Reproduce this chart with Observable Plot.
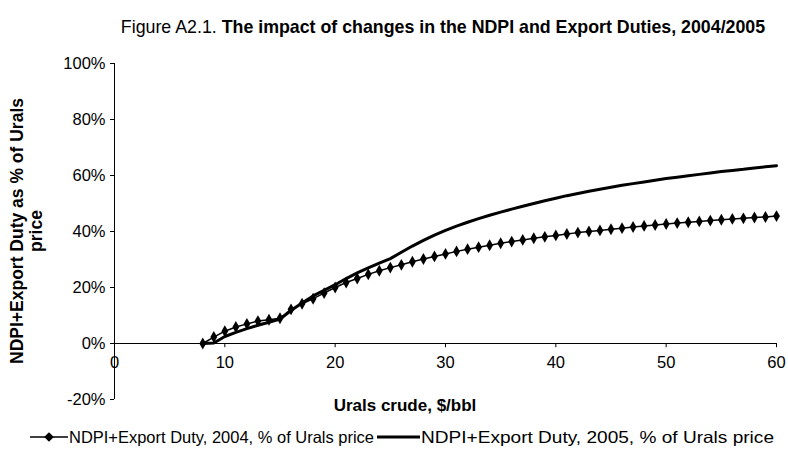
<!DOCTYPE html>
<html>
<head>
<meta charset="utf-8">
<script src="https://cdn.jsdelivr.net/npm/d3@7"></script>
<script src="https://cdn.jsdelivr.net/npm/@observablehq/plot@0.6"></script>
<style>
  html, body { margin: 0; padding: 0; background: #fff; }
  #chart { width: 788px; height: 454px; }
  svg { font-family: Arial, "Liberation Sans", sans-serif; }
</style>
</head>
<body>
<div id="chart"></div>
<script>
const prices = [8,9,10,11,12,13,14,15,16,17,18,19,20,21,22,23,24,25,26,27,28,29,30,31,32,33,34,35,36,37,38,39,40,41,42,43,44,45,46,47,48,49,50,51,52,53,54,55,56,57,58,59,60];
const share2004 = [0,2.3,4.4,5.9,7.0,8.0,8.5,9.0,12.2,14.2,16.0,18.0,20.0,21.8,23.2,24.7,26.0,27.1,28.1,29.2,30.2,31.1,32.0,32.9,33.7,34.4,35.1,35.8,36.4,37.0,37.6,38.1,38.6,39.1,39.6,40.0,40.4,40.8,41.2,41.6,42.0,42.3,42.7,43.0,43.3,43.6,43.9,44.2,44.5,44.7,45.0,45.2,45.5];
const share2005 = [0,0.2,2.5,4.0,5.3,6.5,7.6,8.7,11.8,14.5,17.0,19.0,21.0,23.2,25.2,27.0,28.7,30.3,32.6,34.8,36.8,38.7,40.4,41.9,43.3,44.6,45.8,46.9,48.0,49.0,50.0,51.0,51.9,52.8,53.6,54.4,55.1,55.8,56.5,57.1,57.7,58.3,58.9,59.4,59.9,60.4,60.9,61.4,61.8,62.2,62.7,63.1,63.5];
const xTicks = [0,10,20,30,40,50,60];
const yTicks = [-20,0,20,40,60,80,100];
const seriesNames = ["NDPI+Export Duty, 2004, % of Urals price", "NDPI+Export Duty, 2005, % of Urals price"];
const titlePrefix = "Figure A2.1. ";
const titleMain = "The impact of changes in the NDPI and Export Duties, 2004/2005";
const yLabelLines = ["NDPI+Export Duty as % of Urals", "price"];
const xLabel = "Urals crude, $/bbl";

const d2004 = prices.map((p, i) => ({p, v: share2004[i]}));
const d2005 = prices.map((p, i) => ({p, v: share2005[i]}));

const plot = Plot.plot({
  width: 788,
  height: 454,
  marginLeft: 114,
  marginRight: 12,
  marginTop: 63,
  marginBottom: 55,
  style: {fontFamily: "Arial, 'Liberation Sans', sans-serif", fontSize: "16.5px", color: "#000", background: "#fff"},
  x: {domain: [0, 60], axis: null},
  y: {domain: [-20, 100], axis: null},
  marks: [
    Plot.ruleX([0], {stroke: "#000", strokeWidth: 1}),
    Plot.axisY({ticks: yTicks, tickFormat: d => d + "%", tickSize: 4, tickPadding: 5, fontSize: 16.5, label: null, stroke: "#000", color: "#000"}),
    Plot.ruleY([0], {stroke: "#000", strokeWidth: 1}),
    Plot.ruleX(xTicks, {y1: 0, y2: -1.5, stroke: "#000"}),
    Plot.text(xTicks, {x: d => d, y: 0, dy: 19, text: d => String(d), fontSize: 16.5, fill: "#000"}),
    Plot.line(d2005, {x: "p", y: "v", stroke: "#000", strokeWidth: 3}),
    Plot.line(d2004, {x: "p", y: "v", stroke: "#000", strokeWidth: 1.5}),
    Plot.dot(d2004, {x: "p", y: "v", symbol: "diamond", r: 3.6, fill: "#000", stroke: "none"})
  ]
});
document.getElementById("chart").appendChild(plot);

const svg = d3.select(plot);
const font = "Arial, 'Liberation Sans', sans-serif";

// Title
const t = svg.append("text").attr("x", 443).attr("y", 33).attr("text-anchor", "middle")
  .attr("font-size", 17.8).attr("font-family", font).attr("fill", "#000");
t.append("tspan").text(titlePrefix);
t.append("tspan").attr("font-weight", "bold").text(titleMain);

// Y label
const yl = svg.append("text").attr("transform", "translate(23,231) rotate(-90)")
  .attr("text-anchor", "middle").attr("font-size", 17.5).attr("font-weight", "bold")
  .attr("font-family", font).attr("fill", "#000");
yl.append("tspan").attr("x", 0).attr("y", 0).text(yLabelLines[0]);
yl.append("tspan").attr("x", 0).attr("y", 19).text(yLabelLines[1]);

// X label
svg.append("text").attr("x", 405).attr("y", 411).attr("text-anchor", "middle")
  .attr("font-size", 17).attr("font-weight", "bold").attr("font-family", font)
  .attr("fill", "#000").text(xLabel);

// Legend
const lg = svg.append("g").attr("font-family", font).attr("font-size", 16.5).attr("fill", "#000").attr("text-anchor", "start");
lg.append("line").attr("x1", 30).attr("x2", 68).attr("y1", 437).attr("y2", 437).attr("stroke", "#000").attr("stroke-width", 1.5);
lg.append("path").attr("d", d3.symbol(d3.symbolDiamond2, 60)()).attr("transform", "translate(49,437)").attr("fill", "#000");
lg.append("text").attr("x", 69).attr("y", 443).attr("text-anchor", "start")
  .attr("textLength", 305).attr("lengthAdjust", "spacingAndGlyphs").text(seriesNames[0]);
lg.append("line").attr("x1", 377).attr("x2", 420).attr("y1", 437).attr("y2", 437).attr("stroke", "#000").attr("stroke-width", 3);
lg.append("text").attr("x", 421).attr("y", 443).attr("text-anchor", "start")
  .attr("textLength", 353).attr("lengthAdjust", "spacingAndGlyphs").text(seriesNames[1]);
</script>
</body>
</html>
